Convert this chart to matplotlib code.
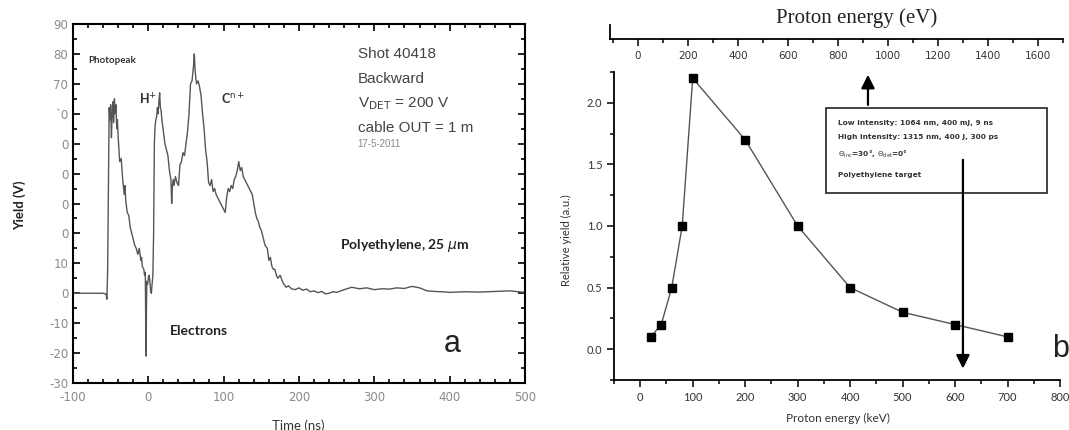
import numpy as np
import matplotlib
matplotlib.use("Agg")
import matplotlib.pyplot as plt
from matplotlib.ticker import MultipleLocator, FixedLocator, FormatStrFormatter
from matplotlib.patches import Rectangle

plt.rcParams['axes.unicode_minus'] = False

# ---- panel a: time trace ----
time_ns = [
    -100, -80, -60, -56, -55, -54, -52, -51, -50, -49,
    -48, -47, -46, -45, -44, -43, -42, -41, -40, -38,
    -36, -34, -32, -31, -30, -28, -26, -24, -22, -20,
    -18, -16, -14, -12, -10, -9, -8, -6, -5, -4,
    -3.5, -3, -2.5, -2, -1, 0, 1, 2, 3, 4,
    5, 6, 7, 8, 9, 10, 11, 12, 13, 14,
    15, 16, 17, 18, 20, 22, 24, 26, 28, 30,
    31, 32, 33, 34, 36, 38, 40, 42, 44, 46,
    48, 50, 52, 54, 56, 58, 60, 61, 62, 63,
    64, 66, 68, 70, 72, 74, 76, 78, 80, 82,
    84, 86, 88, 90, 92, 94, 96, 98, 100, 102,
    104, 106, 108, 110, 112, 114, 116, 118, 120, 122,
    124, 126, 128, 130, 132, 134, 136, 138, 140, 142,
    144, 146, 148, 150, 152, 155, 158, 160, 162, 164,
    166, 168, 170, 172, 175, 178, 180, 183, 186, 190,
    195, 200, 205, 210, 215, 220, 225, 230, 235, 240,
    245, 250, 260, 270, 280, 290, 300, 310, 320, 330,
    340, 350, 360, 370, 380, 390, 400, 420, 440, 460,
    480, 500]

yield_v = [
    0, 0, 0, -0.3, -2, 8, 62, 58, 63, 52,
    60, 64, 57, 65, 60, 63, 55, 58, 52, 44,
    45, 38, 33, 36, 31, 27, 26, 22, 20, 18,
    16, 15, 13, 15, 11, 12, 9, 8, 6, 7,
    -10, -21, -5, 4, 3, 5, 6, 4, 1, 0,
    3, 6, 20, 50, 56, 58, 59, 62, 60, 64,
    67, 62, 61, 58, 54, 50, 48, 46, 41, 38,
    30, 36, 38, 36, 39, 37, 36, 43, 44, 47,
    46, 50, 54, 60, 70, 71, 76, 80, 75, 72,
    70, 71, 69, 66, 60, 55, 48, 44, 37, 36,
    38, 34, 35, 33, 32, 31, 30, 29, 28, 27,
    32, 35, 34, 36, 35, 38, 39, 41, 44, 41,
    42, 39, 38, 37, 36, 35, 34, 33, 30, 27,
    25, 24, 22, 21, 19, 16, 15, 11, 12, 9,
    8, 8, 6, 5, 6, 4, 3, 2, 2.5, 1.5,
    1.2, 1.8, 1.0, 1.4, 0.5, 0.8, 0.2, 0.6, -0.2, 0.0,
    0.5, 0.3, 1.2, 2.0, 1.5, 1.8, 1.2, 1.5, 1.4, 1.8,
    1.6, 2.3, 1.8, 0.8, 0.6, 0.5, 0.3, 0.5, 0.4, 0.6,
    0.8, 0.3]

a_yticks = [-30, -20, -10, 0, 10, 20, 30, 40, 50, 60, 70, 80, 90]
# labels as printed (partly garbled in the original figure)
a_ylabels = ['-30', '-20', '-10', '0', '10', '0', '0', '0', '0', '`0', '70', '80', '90']
a_xticks = [-100, 0, 100, 200, 300, 400, 500]

# ---- panel b: relative yield ----
energy_kev = [20, 40, 60, 80, 100, 200, 300, 400, 500, 600, 700]
rel_yield = [0.1, 0.2, 0.5, 1.0, 2.2, 1.7, 1.0, 0.5, 0.3, 0.2, 0.1]
b_xticks = [0, 100, 200, 300, 400, 500, 600, 700, 800]
b_yticks = [0.0, 0.5, 1.0, 1.5, 2.0]
top_ticks_ev = [0, 200, 400, 600, 800, 1000, 1200, 1400, 1600]

info_lines = [
    'Low intensity: 1064 nm, 400 mJ, 9 ns',
    'High intensity: 1315 nm, 400 J, 300 ps',
    r'$\Theta_{\rm inc}$=30°, $\Theta_{\rm det}$=0°',
    'Polyethylene target',
]

W, H = 1069, 430
fig = plt.figure(figsize=(W / 100, H / 100), dpi=100)

def fx(px):
    return px / W

def fy(py):
    return 1 - py / H

### LEFT PANEL ###
ax = fig.add_axes([fx(73), fy(383), fx(525) - fx(73), fy(24) - fy(383)])
ax.plot(time_ns, yield_v, color='#555555', lw=1.0)
ax.set_xlim(-100, 500)
ax.set_ylim(-30, 90)
ax.xaxis.set_major_locator(FixedLocator(a_xticks))
ax.xaxis.set_minor_locator(MultipleLocator(20))
ax.set_yticks(a_yticks)
ax.set_yticklabels(a_ylabels)
ax.yaxis.set_minor_locator(MultipleLocator(5))
ax.tick_params(which='both', direction='in', top=True, right=True,
               labelsize=8.5, labelcolor='#8a8a8a', width=1.2)
ax.tick_params(which='major', length=5)
ax.tick_params(which='minor', length=3)
ax.tick_params(axis='x', pad=6)
for s in ax.spines.values():
    s.set_linewidth(1.5)

fig.text(fx(20), fy(205), 'Yield (V)', rotation=90, ha='center', va='center',
         fontsize=9.5, fontweight='bold', family='Lato', color='#222222')
fig.text(fx(298), fy(430), 'Time (ns)', ha='center', va='baseline',
         fontsize=9.5, family='Lato', color='#333333')

ax.text(-80, 77, 'Photopeak', fontsize=7, fontweight='bold', family='Lato', color='#333333')
ax.text(-12, 63, r'H$^{+}$', fontsize=9, fontweight='bold', family='Lato', color='#333333')
ax.text(97, 63, r'C$^{\rm n+}$', fontsize=9, fontweight='bold', family='Lato', color='#333333')
ax.text(28, -14, 'Electrons', fontsize=10, fontweight='bold', family='Lato', color='#222222')
ax.text(255, 16, r'Polyethylene, 25 $\mu$m', fontsize=10, fontweight='bold',
        family='Lato', color='#222222', va='center')
ax.text(392, -17, 'a', fontsize=22, family='Liberation Sans', color='#222222', va='center')

shot_lines = ['Shot 40418', 'Backward', r'V$_{\rm DET}$ = 200 V', 'cable OUT = 1 m']
for i, s in enumerate(shot_lines):
    ax.text(278, 80 - i * 8.3, s, fontsize=11, family='Liberation Sans',
            color='#444444', va='center')
ax.text(278, 50, '17-5-2011', fontsize=7, family='Liberation Sans', color='#888888', va='center')

### RIGHT PANEL ###
bx = fig.add_axes([fx(614), fy(380), fx(1060) - fx(614), fy(72) - fy(380)])
bx.plot(energy_kev, rel_yield, color='#555555', lw=1.0, marker='s',
        markersize=5.5, markerfacecolor='black', markeredgecolor='black')
bx.set_xlim(-50, 800)
bx.set_ylim(-0.25, 2.25)
bx.spines['top'].set_visible(False)
bx.spines['right'].set_visible(False)
for s in ('left', 'bottom'):
    bx.spines[s].set_linewidth(1.3)
bx.xaxis.set_major_locator(FixedLocator(b_xticks))
bx.xaxis.set_minor_locator(MultipleLocator(50))
bx.yaxis.set_major_locator(FixedLocator(b_yticks))
bx.yaxis.set_minor_locator(MultipleLocator(0.25))
bx.yaxis.set_major_formatter(FormatStrFormatter('%.1f'))
bx.tick_params(which='both', direction='out', labelsize=8, labelcolor='#333333', width=1.1)
bx.tick_params(which='major', length=5)
bx.tick_params(which='minor', length=3)
for lab in bx.get_xticklabels() + bx.get_yticklabels():
    lab.set_family('Lato')

fig.text(fx(566), fy(240), 'Relative yield (a.u.)', rotation=90, ha='center', va='center',
         fontsize=8, family='Lato', color='#333333')
fig.text(fx(838), fy(418), 'Proton energy (keV)', ha='center', va='center',
         fontsize=8.5, family='Lato', color='#333333')
bx.text(785, 0.0, 'b', fontsize=22, family='Liberation Sans', color='#222222', va='center')

# info box
bx.add_patch(Rectangle((354, 1.27), 421, 0.69, fill=False, lw=1.2, edgecolor='#222222'))
for i, s in enumerate(info_lines):
    yy = [1.84, 1.72, 1.58, 1.41][i]
    bx.text(376, yy, s, fontsize=5.3, fontweight='bold', family='DejaVu Sans',
            color='#333333', va='center')
bx.annotate('', xy=(434, 2.25), xytext=(434, 1.96),
            arrowprops=dict(arrowstyle='-|>', color='black', lw=1.6, mutation_scale=20),
            annotation_clip=False)
bx.annotate('', xy=(615, -0.18), xytext=(615, 1.56),
            arrowprops=dict(arrowstyle='-|>', color='black', lw=1.6, mutation_scale=20))

### TOP AXIS (eV) ###
tx = fig.add_axes([fx(610), fy(39), fx(1063) - fx(610), fy(25) - fy(39)])
tx.set_xlim(-112, 1700)
tx.set_ylim(0, 1)
tx.patch.set_visible(False)
for s in ('top', 'right'):
    tx.spines[s].set_visible(False)
tx.spines['bottom'].set_linewidth(1.3)
tx.spines['left'].set_linewidth(1.3)
tx.set_yticks([])
tx.xaxis.set_major_locator(FixedLocator(top_ticks_ev))
tx.xaxis.set_minor_locator(MultipleLocator(100))
tx.tick_params(which='both', direction='out', labelsize=7.5, labelcolor='#333333', width=1.1)
tx.tick_params(which='major', length=5)
tx.tick_params(which='minor', length=3)
fig.text(fx(857), fy(18), 'Proton energy (eV)', ha='center', va='center',
         fontsize=15, family='Liberation Serif', color='#222222')

fig.savefig('out.png', dpi=100)
